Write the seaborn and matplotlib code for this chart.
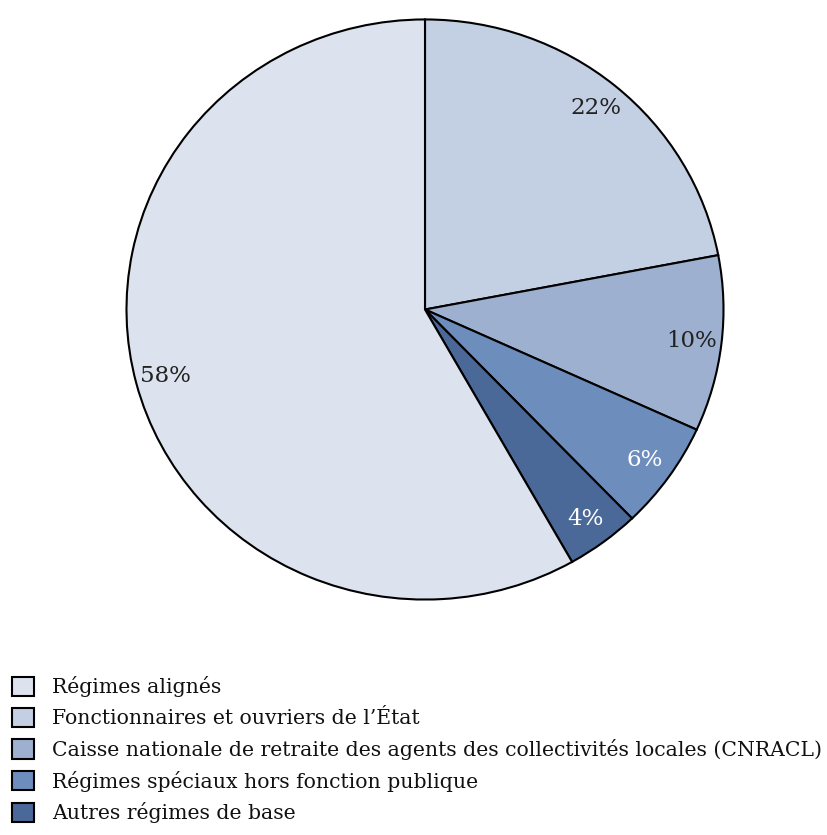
import matplotlib
matplotlib.use("Agg")
import matplotlib.pyplot as plt
import seaborn as sns

# parts des régimes (ordre horaire depuis le haut)
categories = [
    "Fonctionnaires et ouvriers de l\u2019\u00c9tat",
    "Caisse nationale de retraite des agents des collectivit\u00e9s locales (CNRACL)",
    "R\u00e9gimes sp\u00e9ciaux hors fonction publique",
    "Autres r\u00e9gimes de base",
    "R\u00e9gimes align\u00e9s",
]
parts = [22.0, 9.8, 6.0, 4.0, 58.2]
couleurs = ["#c3cfe2", "#9db0cf", "#6d8ebd", "#4a6898", "#dce3ee"]
couleurs_texte = ["#222222", "#222222", "white", "white", "#222222"]

# ordre de la légende
ordre_legende = [4, 0, 1, 2, 3]

sns.set_theme(style="white")
plt.rcParams["font.family"] = ["DejaVu Serif"]

fig = plt.figure(figsize=(8.27, 8.35), dpi=100)
W, H = 827, 835
cx, cy, rx, ry = 425, 309.5, 300, 291.5
ax = fig.add_axes([(cx - rx) / W, (H - cy - ry) / H, 2 * rx / W, 2 * ry / H])

pal = sns.color_palette(couleurs)
wedges, texts, autotexts = ax.pie(
    parts,
    colors=pal,
    startangle=90,
    counterclock=False,
    autopct="%.0f%%",
    pctdistance=0.9,
    wedgeprops={"edgecolor": "black", "linewidth": 1.5},
    textprops={"fontsize": 16.5},
)
for t, c in zip(autotexts, couleurs_texte):
    t.set_color(c)
ax.set_aspect("auto")
ax.set_xlim(-1.005, 1.005)
ax.set_ylim(-1.005, 1.005)
ax.axis("off")

leg = fig.legend(
    [wedges[i] for i in ordre_legende],
    [categories[i] for i in ordre_legende],
    loc="upper left",
    bbox_to_anchor=(4 / W, 1 - 668 / H),
    frameon=False,
    fontsize=14.7,
    handlelength=1.08,
    handleheight=1.08,
    handletextpad=0.86,
    labelspacing=0.52,
    borderaxespad=0,
)
for t in leg.get_texts():
    t.set_color("#111111")

plt.savefig("out.png", dpi=100)
plt.close()
